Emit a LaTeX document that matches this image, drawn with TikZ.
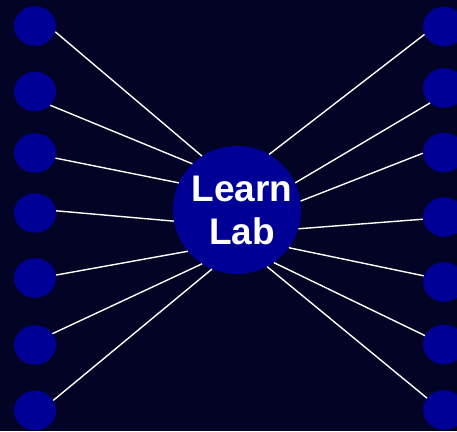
\documentclass[tikz,border=0pt]{standalone}
\usepackage{fontspec}
\setsansfont{Liberation Sans}
\usetikzlibrary{shapes.geometric}
\definecolor{bgnavy}{RGB}{3,3,38}
\definecolor{leafblue}{RGB}{0,0,150}
\begin{document}
\begin{tikzpicture}[x=1pt,y=-1pt,
 leaf/.style={ellipse,fill=leafblue,minimum width=42pt,minimum height=39.5pt,inner sep=0pt},
 hub/.style={circle,fill=leafblue,minimum size=128pt,inner sep=0pt},
 link/.style={white,line width=1.4pt}]
\fill[bgnavy] (0,0) rectangle (457,431);
\useasboundingbox (0,0) rectangle (457,431);
\clip (0,0) rectangle (457,431);
% centre
\node[hub,label={[text=white,align=center,xshift=5pt,font=\sffamily\bfseries\fontsize{37}{43}\selectfont]center:Learn\\Lab}] (lab) at (237,210) {};
% left column
\node[leaf] (l1) at (35,26) {};
\node[leaf] (l2) at (35,91.5) {};
\node[leaf] (l3) at (35,153) {};
\node[leaf] (l4) at (35,213) {};
\node[leaf] (l5) at (35,278) {};
\node[leaf] (l6) at (35,345) {};
\node[leaf] (l7) at (35,410.5) {};
% right column
\node[leaf] (r1) at (444,26.5) {};
\node[leaf] (r2) at (444,88) {};
\node[leaf] (r3) at (444,152.5) {};
\node[leaf] (r4) at (444,217) {};
\node[leaf] (r5) at (444,282) {};
\node[leaf] (r6) at (444,344.5) {};
\node[leaf] (r7) at (444,410) {};
% spokes
\draw[link] (l1.-16.7) -- (lab.123.5);
\draw[link] (l2.-42) -- (lab.134.8);
\draw[link] (l3.-14.8) -- (lab.155.8);
\draw[link] (l4.6.2) -- (lab.190.6);
\draw[link] (l5.8.1) -- (lab.220.1);
\draw[link] (l6.33.5) -- (lab.237.9);
\draw[link] (l7.29.8) -- (lab.247.8);
\draw[link] (r1.202.6) -- (lab.60.2);
\draw[link] (r2.227.5) -- (lab.25);
\draw[link] (r3.182.2) -- (lab.8.9);
\draw[link] (r4.186.3) -- (lab.-17.2);
\draw[link] (r5.163.8) -- (lab.-36.1);
\draw[link] (r6.155.9) -- (lab.-55.9);
\draw[link] (r7.145.9) -- (lab.-62.7);
\end{tikzpicture}
\end{document}
